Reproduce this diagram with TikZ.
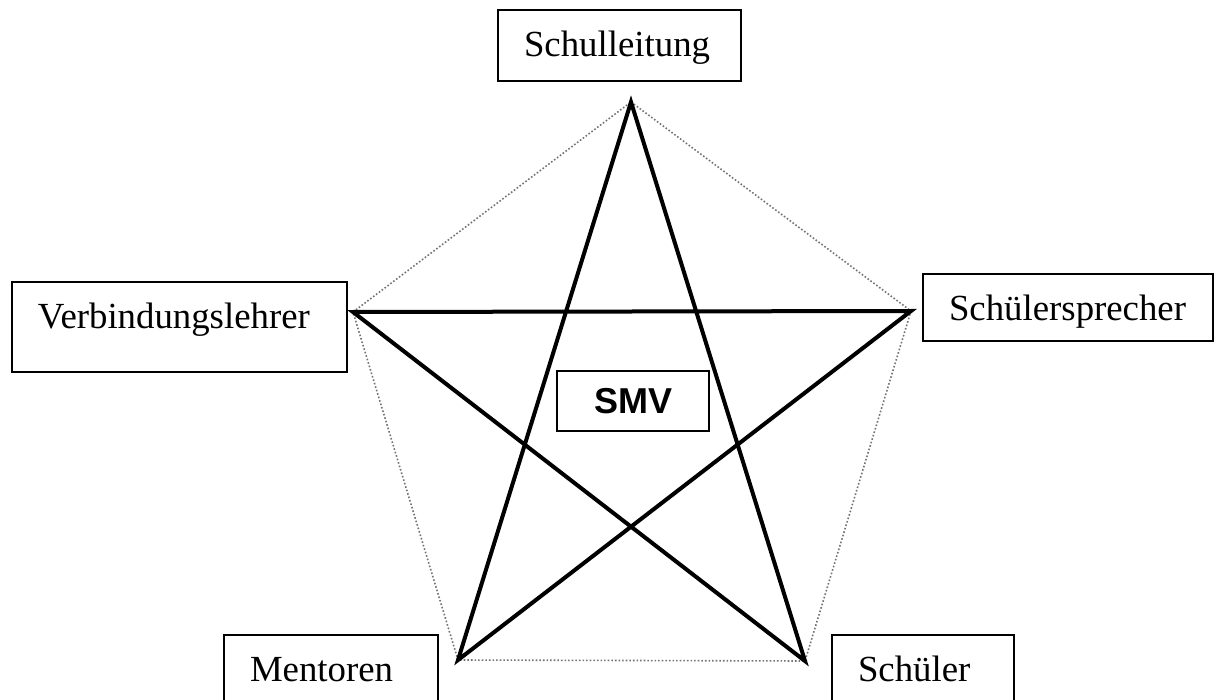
\documentclass[tikz,border=0pt]{standalone}
\usepackage{fontspec}
\setmainfont{Liberation Serif}
\setsansfont{Liberation Sans}
\usetikzlibrary{positioning}

\begin{document}
\begin{tikzpicture}[
  x=0.5pt, y=-0.5pt,
  font=\fontsize{18.4}{21}\selectfont,
  box/.style={draw, line width=1pt, anchor=north west, align=left, inner xsep=13pt, inner ysep=0pt, text height=23.25pt},
  smvbox/.style={draw, line width=1pt, minimum width=76pt, minimum height=30pt, inner sep=0pt, font=\sffamily\bfseries\fontsize{18}{20}\selectfont},
  star/.style={line width=2pt, line join=miter},
  rim/.style={densely dotted, black!55, line width=0.8pt}]
\useasboundingbox (0,0) rectangle (1215,700);
% corners of the star
\coordinate (vtop) at (631,102);
\coordinate (vleft) at (353,312);
\coordinate (vright) at (911,311);
\coordinate (vbl) at (458,660);
\coordinate (vbr) at (805,661);
% dotted pentagon
\draw[rim] (vtop) -- (vright) -- (vbr) -- (vbl) -- (vleft) -- cycle;
% pentagram
\draw[star] (vtop) -- (vbl) -- (vright) -- (vleft) -- (vbr) -- cycle;
% boxes
\node[box, text width=95.5pt, text depth=12.25pt] (leitung) at (497,9) {Schulleitung};
\node[box, text width=141.5pt, text depth=21.75pt] (vlehrer) at (11,281) {Verbindungslehrer};
\node[box, text width=119pt, text depth=10.25pt] (sprecher) at (922,273) {Schülersprecher};
\node[box, text width=81pt, text depth=12pt] (mentoren) at (223,634) {Mentoren};
\node[box, text width=65pt, text depth=12pt] (schueler) at (831,634) {Schüler};
\node[smvbox] (smv) at (633,401) {SMV};
\end{tikzpicture}
\end{document}
